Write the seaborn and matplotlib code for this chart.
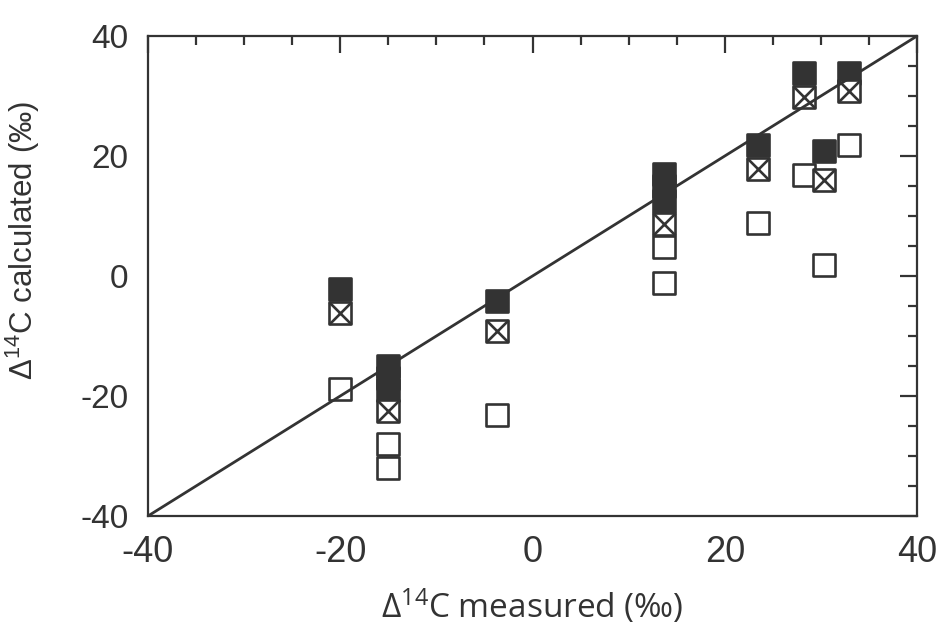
import matplotlib
matplotlib.use("Agg")
import matplotlib.pyplot as plt
import seaborn as sns
import pandas as pd
import numpy as np
from matplotlib.ticker import MultipleLocator

# -------------------------------- DATA --------------------------------

# filled squares
filled_x = [-20, -15, -15, -15, -3.7, 13.7, 13.7, 13.7, 23.5, 28.2, 30.3, 32.9]
filled_y = [-2.2, -15, -17, -19, -4.1, 17, 15, 12.5, 21.8, 33.8, 20.9, 33.8]

# crossed squares
cross_x = [-20, -15, -3.7, 13.7, 23.5, 28.2, 30.3, 32.9]
cross_y = [-6.2, -22.5, -9.1, 8.7, 17.9, 29.9, 16, 30.8]

# open squares
open_x = [-20, -15, -15, -3.7, 13.7, 13.7, 23.5, 28.2, 30.3, 32.9]
open_y = [-18.9, -28, -32, -23.1, 4.8, -1.2, 8.9, 16.8, 1.8, 21.9]

# 1:1 line
line_x = [-40, 40]
line_y = [-40, 40]

ticks = [-40, -20, 0, 20, 40]

df_filled = pd.DataFrame({"measured": filled_x, "calculated": filled_y})
df_cross = pd.DataFrame({"measured": cross_x, "calculated": cross_y})
df_open = pd.DataFrame({"measured": open_x, "calculated": open_y})

# ------------------------------- STYLE --------------------------------

sns.set_style("white")
plt.rcParams["font.family"] = ["Liberation Sans", "DejaVu Sans"]
plt.rcParams["axes.unicode_minus"] = False

DARK = "#333333"
S = 250      # marker area (pt^2)
LW = 1.9

fig = plt.figure(figsize=(9.45, 6.35), dpi=100)
ax = fig.add_axes([0.1566, 0.1874, 0.8138, 0.7559])

# -------------------------------- PLOT --------------------------------

sns.scatterplot(data=df_open, x="measured", y="calculated", ax=ax,
                marker="s", s=S, facecolor="none", edgecolor=DARK,
                linewidth=LW, zorder=3)
sns.scatterplot(data=df_filled, x="measured", y="calculated", ax=ax,
                marker="s", s=S, color=DARK, edgecolor=DARK,
                linewidth=LW, zorder=4)
sns.scatterplot(data=df_cross, x="measured", y="calculated", ax=ax,
                marker="s", s=S, color="white", edgecolor=DARK,
                linewidth=LW, zorder=5)
sns.scatterplot(data=df_cross, x="measured", y="calculated", ax=ax,
                marker="x", s=S, color=DARK, edgecolor=DARK,
                linewidth=LW, zorder=6)
sns.lineplot(x=line_x, y=line_y, ax=ax, color=DARK, linewidth=2, zorder=7)

ax.set_xlim(-40, 40)
ax.set_ylim(-40, 40)
ax.set_xticks(ticks)
ax.set_yticks(ticks)
ax.xaxis.set_minor_locator(MultipleLocator(5))
ax.yaxis.set_minor_locator(MultipleLocator(5))
ax.tick_params(which="both", direction="in", top=True, right=True,
               color=DARK, width=1.6, labelcolor=DARK)
ax.tick_params(which="major", length=12.5)
ax.tick_params(which="minor", length=6.5)
ax.tick_params(axis="x", which="major", labelsize=26, pad=14)
ax.tick_params(axis="y", which="major", labelsize=24, pad=14)

for sp in ax.spines.values():
    sp.set_color(DARK)
    sp.set_linewidth(1.6)

ax.set_xlabel(r"$\mathregular{\Delta^{14}}$C measured (‰)", fontsize=24,
              color=DARK, family=["Open Sans", "DejaVu Sans"], labelpad=12)
ax.set_ylabel(r"$\mathregular{\Delta^{14}}$C calculated (‰)", fontsize=22.5,
              color=DARK)
ax.yaxis.set_label_coords(-0.138, 0.575)

fig.savefig("out.png", dpi=100)
